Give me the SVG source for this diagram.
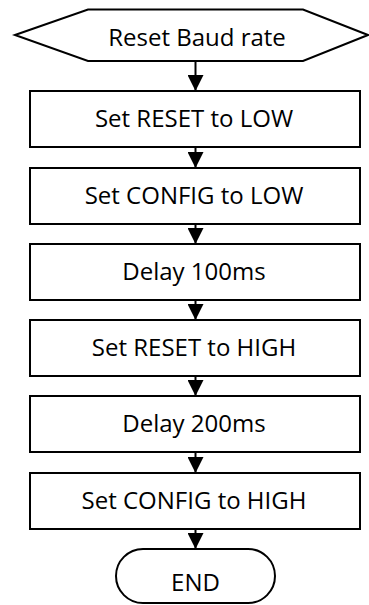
<svg xmlns="http://www.w3.org/2000/svg" width="369" height="605" viewBox="0 0 369 605">
  <defs>
    <style>
      .shape { fill: #ffffff; stroke: #000000; stroke-width: 2; }
      .label { font-family: "Open Sans", "Noto Sans", sans-serif; font-size: 24px; fill: #000000; text-anchor: middle; }
      .flow { stroke: #000000; stroke-width: 2; fill: none; marker-end: url(#arrow); }
    </style>
    <marker id="arrow" viewBox="0 0 16 16" refX="16" refY="8" markerWidth="16" markerHeight="16" markerUnits="userSpaceOnUse" orient="auto">
      <path d="M0,0 L16,8 L0,16 Z" fill="#000000"/>
    </marker>
  </defs>
  <rect width="369" height="605" fill="#ffffff"/>

  <g id="connectors">
    <line class="flow" x1="195.5" y1="61" x2="195.5" y2="91"/>
    <line class="flow" x1="195.5" y1="147" x2="195.5" y2="168"/>
    <line class="flow" x1="195.5" y1="224" x2="195.5" y2="244"/>
    <line class="flow" x1="195.5" y1="300" x2="195.5" y2="320"/>
    <line class="flow" x1="195.5" y1="376" x2="195.5" y2="396"/>
    <line class="flow" x1="195.5" y1="452" x2="195.5" y2="473"/>
    <line class="flow" x1="195.5" y1="529" x2="195.5" y2="549"/>
  </g>

  <g id="start">
    <polygon class="shape" points="15,35 88,9.5 303,9.5 368,35 303,61 88,61"/>
    <text class="label" x="197" y="46">Reset Baud rate</text>
  </g>

  <g id="step1">
    <rect class="shape" x="30" y="91" width="330" height="56"/>
    <text class="label" x="194" y="127">Set RESET to LOW</text>
  </g>

  <g id="step2">
    <rect class="shape" x="30" y="168" width="330" height="56"/>
    <text class="label" x="194" y="204">Set CONFIG to LOW</text>
  </g>

  <g id="step3">
    <rect class="shape" x="30" y="244" width="330" height="56"/>
    <text class="label" x="194" y="280">Delay 100ms</text>
  </g>

  <g id="step4">
    <rect class="shape" x="30" y="320" width="330" height="56"/>
    <text class="label" x="194" y="356">Set RESET to HIGH</text>
  </g>

  <g id="step5">
    <rect class="shape" x="30" y="396" width="330" height="56"/>
    <text class="label" x="194" y="432">Delay 200ms</text>
  </g>

  <g id="step6">
    <rect class="shape" x="30" y="473" width="330" height="56"/>
    <text class="label" x="194" y="509">Set CONFIG to HIGH</text>
  </g>

  <g id="end">
    <rect class="shape" x="116" y="549" width="159" height="54" rx="27" ry="27"/>
    <text class="label" x="195.5" y="591">END</text>
  </g>
</svg>
